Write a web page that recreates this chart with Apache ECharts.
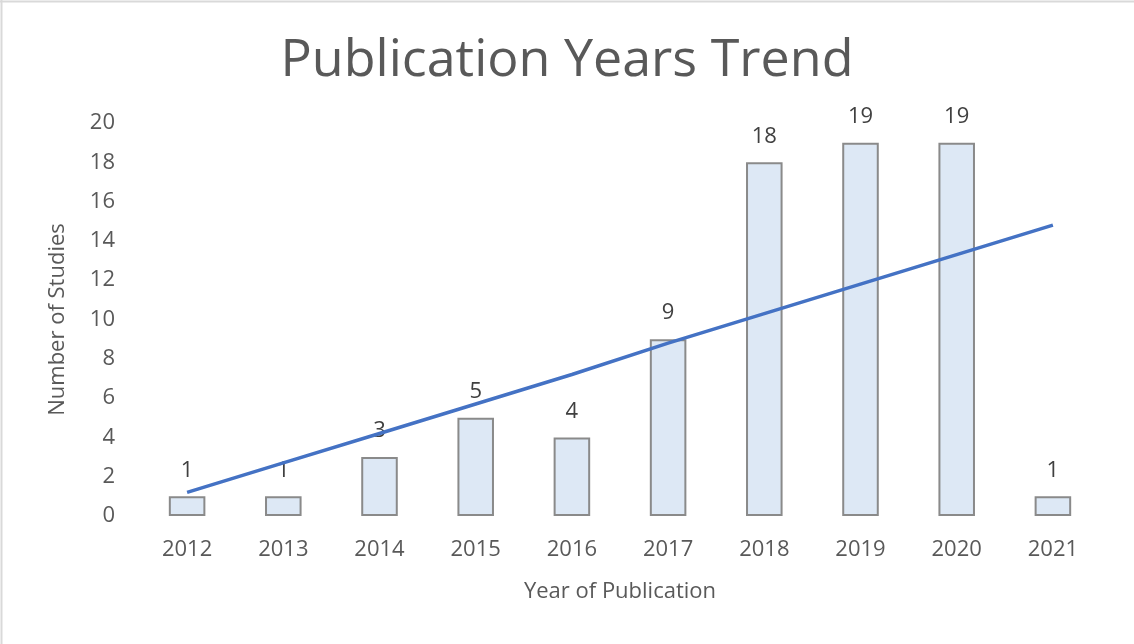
<!DOCTYPE html>
<html><head><meta charset="utf-8">
<script src="https://cdn.jsdelivr.net/npm/echarts@6/dist/echarts.min.js"></script>
<style>html,body{margin:0;padding:0;background:#fff}#c{width:1134px;height:644px}</style>
</head><body><div id="c"></div>
<script>
const years = ['2012','2013','2014','2015','2016','2017','2018','2019','2020','2021'];
const studies = [1,1,3,5,4,9,18,19,19,1];
const trend = [1.2,2.7,4.2,5.7,7.2,8.8,10.3,11.8,13.3,14.8];
const yTicks = {min:0, max:20, interval:2};

const chart = echarts.init(document.getElementById('c'), null, {renderer:'canvas'});
const font = "'Open Sans', 'Noto Sans', sans-serif";
chart.setOption({
  animation:false,
  backgroundColor:'#fff',
  textStyle:{fontFamily:font},
  title:{text:'Publication Years Trend', left:'center', top:30,
    textStyle:{fontFamily:font, fontSize:52, fontWeight:'normal', color:'#595959'}},
  graphic:[
    {type:'line', shape:{x1:0,y1:1.5,x2:1134,y2:1.5}, style:{stroke:'#d9d9d9', lineWidth:2}},
    {type:'line', shape:{x1:1.5,y1:0,x2:1.5,y2:644}, style:{stroke:'#d9d9d9', lineWidth:2}}
  ],
  grid:{left:139, right:33, top:123, bottom:128},
  xAxis:{type:'category', data:years,
    axisLine:{show:false}, axisTick:{show:false},
    axisLabel:{color:'#595959', fontSize:22, margin:23, fontFamily:font},
    name:'Year of Publication', nameLocation:'middle', nameGap:65,
    nameTextStyle:{color:'#595959', fontSize:22, fontFamily:font}},
  yAxis:{type:'value', min:yTicks.min, max:yTicks.max, interval:yTicks.interval,
    splitLine:{show:false}, axisLine:{show:false}, axisTick:{show:false},
    axisLabel:{color:'#595959', fontSize:22, margin:24, fontFamily:font},
    name:'Number of Studies', nameLocation:'middle', nameGap:70, nameRotate:90,
    nameTextStyle:{color:'#595959', fontSize:22, fontFamily:font}},
  series:[
    {type:'bar', data:studies, barWidth:'38%',
      itemStyle:{color:'#dde8f5', borderColor:'#8a8a8a', borderWidth:2},
      label:{show:true, position:'top', distance:15, color:'#404040', fontSize:22, fontFamily:font}},
    {type:'line', data:trend, symbol:'none', z:5,
      lineStyle:{color:'#4472c4', width:3.5}}
  ]
});
</script></body></html>
